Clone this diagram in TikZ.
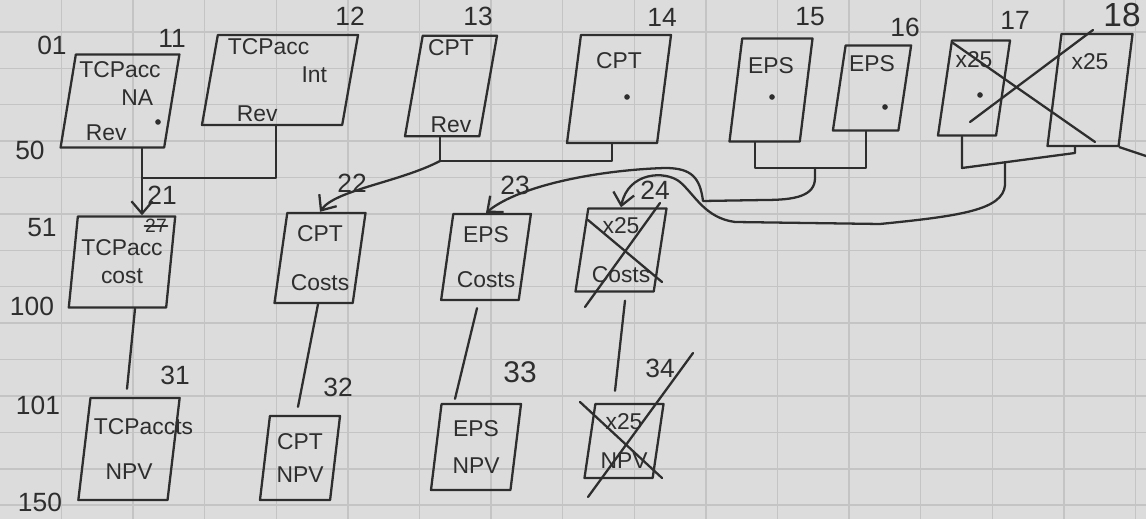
\documentclass[tikz,border=0pt]{standalone}
\usepackage{fontspec}
\setmainfont{Liberation Sans}
\usetikzlibrary{shapes.geometric,arrows.meta,calc}
\definecolor{paper}{HTML}{DCDCDC}
\definecolor{gridc}{HTML}{C4C4C4}
\definecolor{ink}{HTML}{2E2E2E}
\tikzset{
  pen/.style={draw=ink, line width=0.65pt, line cap=round, line join=round},
  skbox/.style={pen, trapezium, trapezium left angle=80, trapezium right angle=100,
    trapezium stretches body, inner sep=1pt, font=\fontsize{6.5}{8}\selectfont,
    text=ink, align=center},
  num/.style={font=\fontsize{7.5}{9}\selectfont, text=ink, inner sep=0pt},
  arr/.style={pen, -{Straight Barb[length=3.5pt,width=6pt]}},
}
\begin{document}
\begin{tikzpicture}[x=0.01cm,y=-0.01cm]
\fill[paper] (0,0) rectangle (1146,519);
\useasboundingbox (0,0) rectangle (1146,519);
\foreach \i in {0,...,15} \draw[gridc, line width=0.4pt] ({61.4+71.6*\i},0) -- ({61.4+71.6*\i},519);
\foreach \j in {0,...,13} \draw[gridc, line width=0.4pt] (0,{32+36.4*\j}) -- (1146,{32+36.4*\j});

% row 1
\node[skbox, minimum width=1.12cm, minimum height=0.93cm] (b11) at (120,101) {TCPacc\\\hspace*{1.5em}NA\\[2pt]Rev\hspace*{1.2em}};
\node[skbox, minimum width=1.56cm, minimum height=0.90cm] (b12) at (280,80) {TCPacc\hspace*{1em}\\\hspace*{3em}Int\\[3pt]Rev\hspace*{2em}};
\node[skbox, minimum width=0.92cm, minimum height=0.98cm] (b13) at (451,86) {CPT\\[14pt]Rev};
\node[skbox, minimum width=1.04cm, minimum height=1.08cm] (b14) at (619,89) {CPT\\[8pt]~};
\node[skbox, minimum width=0.83cm, minimum height=1.03cm] (b15) at (771,90) {EPS\\[6pt]~};
\node[skbox, minimum width=0.65cm, minimum height=0.85cm] (b16) at (872,88) {EPS\\[6pt]~};
\node[skbox, minimum width=0.72cm, minimum height=0.95cm] (b17) at (974,88) {x25\\[8pt]~};
\node[skbox, minimum width=0.85cm, minimum height=1.12cm] (b18) at (1090,90) {x25\\[8pt]~};
% row 2
\node[skbox, minimum width=1.04cm, minimum height=0.91cm] (b21) at (122,262) {TCPacc\\[0pt]cost};
\node[skbox, minimum width=0.86cm, minimum height=0.90cm] (b22) at (320,258) {CPT\\[6pt]Costs};
\node[skbox, minimum width=0.80cm, minimum height=0.86cm] (b23) at (486,257) {EPS\\[5pt]Costs};
\node[skbox, minimum width=0.81cm, minimum height=0.83cm] (b24) at (621,250) {x25\\[6pt]Costs};
% row 3
\node[skbox, minimum width=0.96cm, minimum height=1.02cm] (b31) at (129,449) {\makebox[0.7cm][l]{TCPaccts}\\[5pt]NPV};
\node[skbox, minimum width=0.80cm, minimum height=0.84cm] (b32) at (300,458) {CPT\\[1.5pt]NPV};
\node[skbox, minimum width=0.90cm, minimum height=0.86cm] (b33) at (476,447) {EPS\\[2.5pt]NPV};
\node[skbox, minimum width=0.79cm, minimum height=0.74cm] (b34) at (624,441) {x25\\[3pt]NPV};

% numbers
\node[num] (n11) at (172,38) {11};
\node[num] (n12) at (350,16) {12};
\node[num] (n13) at (478,16) {13};
\node[num] (n14) at (662,17) {14};
\node[num] (n15) at (810,17) {15};
\node[num] (n16) at (905,27) {16};
\node[num] (n17) at (1015,20) {17};
\node[num, font=\fontsize{9.5}{11}\selectfont] (n18) at (1122,15) {18};
\node[num] (n21) at (162,195) {21};
\node[num] (n22) at (352,183) {22};
\node[num] (n23) at (515,185) {23};
\node[num] (n24) at (655,190) {24};
\node[num] (n31) at (175,375) {31};
\node[num] (n32) at (338,387) {32};
\node[num, font=\fontsize{8.5}{10}\selectfont] (n33) at (520,372) {33};
\node[num] (n34) at (660,368) {34};
\node[num] (m01) at (52,45) {01};
\node[num] (m50) at (30,150) {50};
\node[num] (m51) at (42,228) {51};
\node[num] (m100) at (32,306) {100};
\node[num] (m101) at (38,405) {101};
\node[num] (m150) at (40,502) {150};
\node[num, font=\fontsize{5.5}{6}\selectfont] (s21) at (156,226) {27};
\draw[pen, line width=0.5pt] (s21.west) -- (s21.east);

% dots
\fill[ink] (158,122) circle (0.8pt);
\fill[ink] (627,97) circle (0.8pt);
\fill[ink] (772,97) circle (0.8pt);
\fill[ink] (885,107) circle (0.8pt);
\fill[ink] (980,95) circle (0.8pt);

% crosses
\draw[pen] (953,43) -- (1095,142);
\draw[pen] (970,122) -- (1093,30);
\draw[pen] (b18.bottom right corner) -- (1146,156);
\draw[pen] (588,220) -- (662,282);
\draw[pen] (585,307) -- (660,203);
\draw[pen] (580,402) -- (662,478);
\draw[pen] (588,497) -- (693,353);

% connectors row 1 -> row 2
\coordinate (c11) at (142,0);
\coordinate (c12) at (276,0);
\coordinate (j1) at (142,178);
\draw[pen] (b11.south -| c11) -- (j1);
\draw[pen] (b12.south -| c12) -- (c12 |- j1) -- (j1);
\draw[arr] (j1) -- (b21.north -| j1);

\coordinate (c13) at (440,0);
\coordinate (c14) at (612,0);
\coordinate (j2) at (440,161);
\draw[pen] (b13.south -| c13) -- (j2);
\draw[pen] (b14.south -| c14) -- (c14 |- j2) -- (j2);
\draw[arr] (j2) .. controls (400,182) and (335,190) .. (b22.north);

\coordinate (c15) at (755,0);
\coordinate (c16) at (866,0);
\coordinate (j3) at (815,168);
\draw[pen] (b15.south -| c15) -- (c15 |- j3) -- (c16 |- j3) -- (b16.south -| c16);
\draw[arr] (j3) -- (815,178) .. controls (815,196) and (795,200) .. (765,200) -- (703,201)
  .. controls (700,178) and (692,168) .. (665,168) .. controls (600,170) and (520,185) .. (b23.north);

\coordinate (c17) at (962,0);
\coordinate (c18) at (1075,0);
\coordinate (j4) at (1005,162);
\draw[pen] (b17.south -| c17) -- (962,168) -- (1075,153) -- (b18.south -| c18);
\draw[arr] (j4) -- (1005,185) .. controls (1003,210) and (960,216) .. (880,224) -- (735,222)
  .. controls (705,218) and (695,195) .. (680,182) .. controls (665,170) and (628,172) .. (b24.north);

% connectors row 2 -> row 3
\draw[pen] ($(b21.south)+(13,0)$) -- ($(b31.north)+(-2,-8)$);
\draw[pen] ($(b22.south)+(-2,0)$) -- ($(b32.north)+(-2,-8)$);
\draw[pen] ($(b23.south)+(-9,7)$) -- ($(b33.north)+(-21,-4)$);
\draw[pen] ($(b24.south)+(4,8)$) -- ($(b34.north)+(-9,-12)$);
\end{tikzpicture}
\end{document}
